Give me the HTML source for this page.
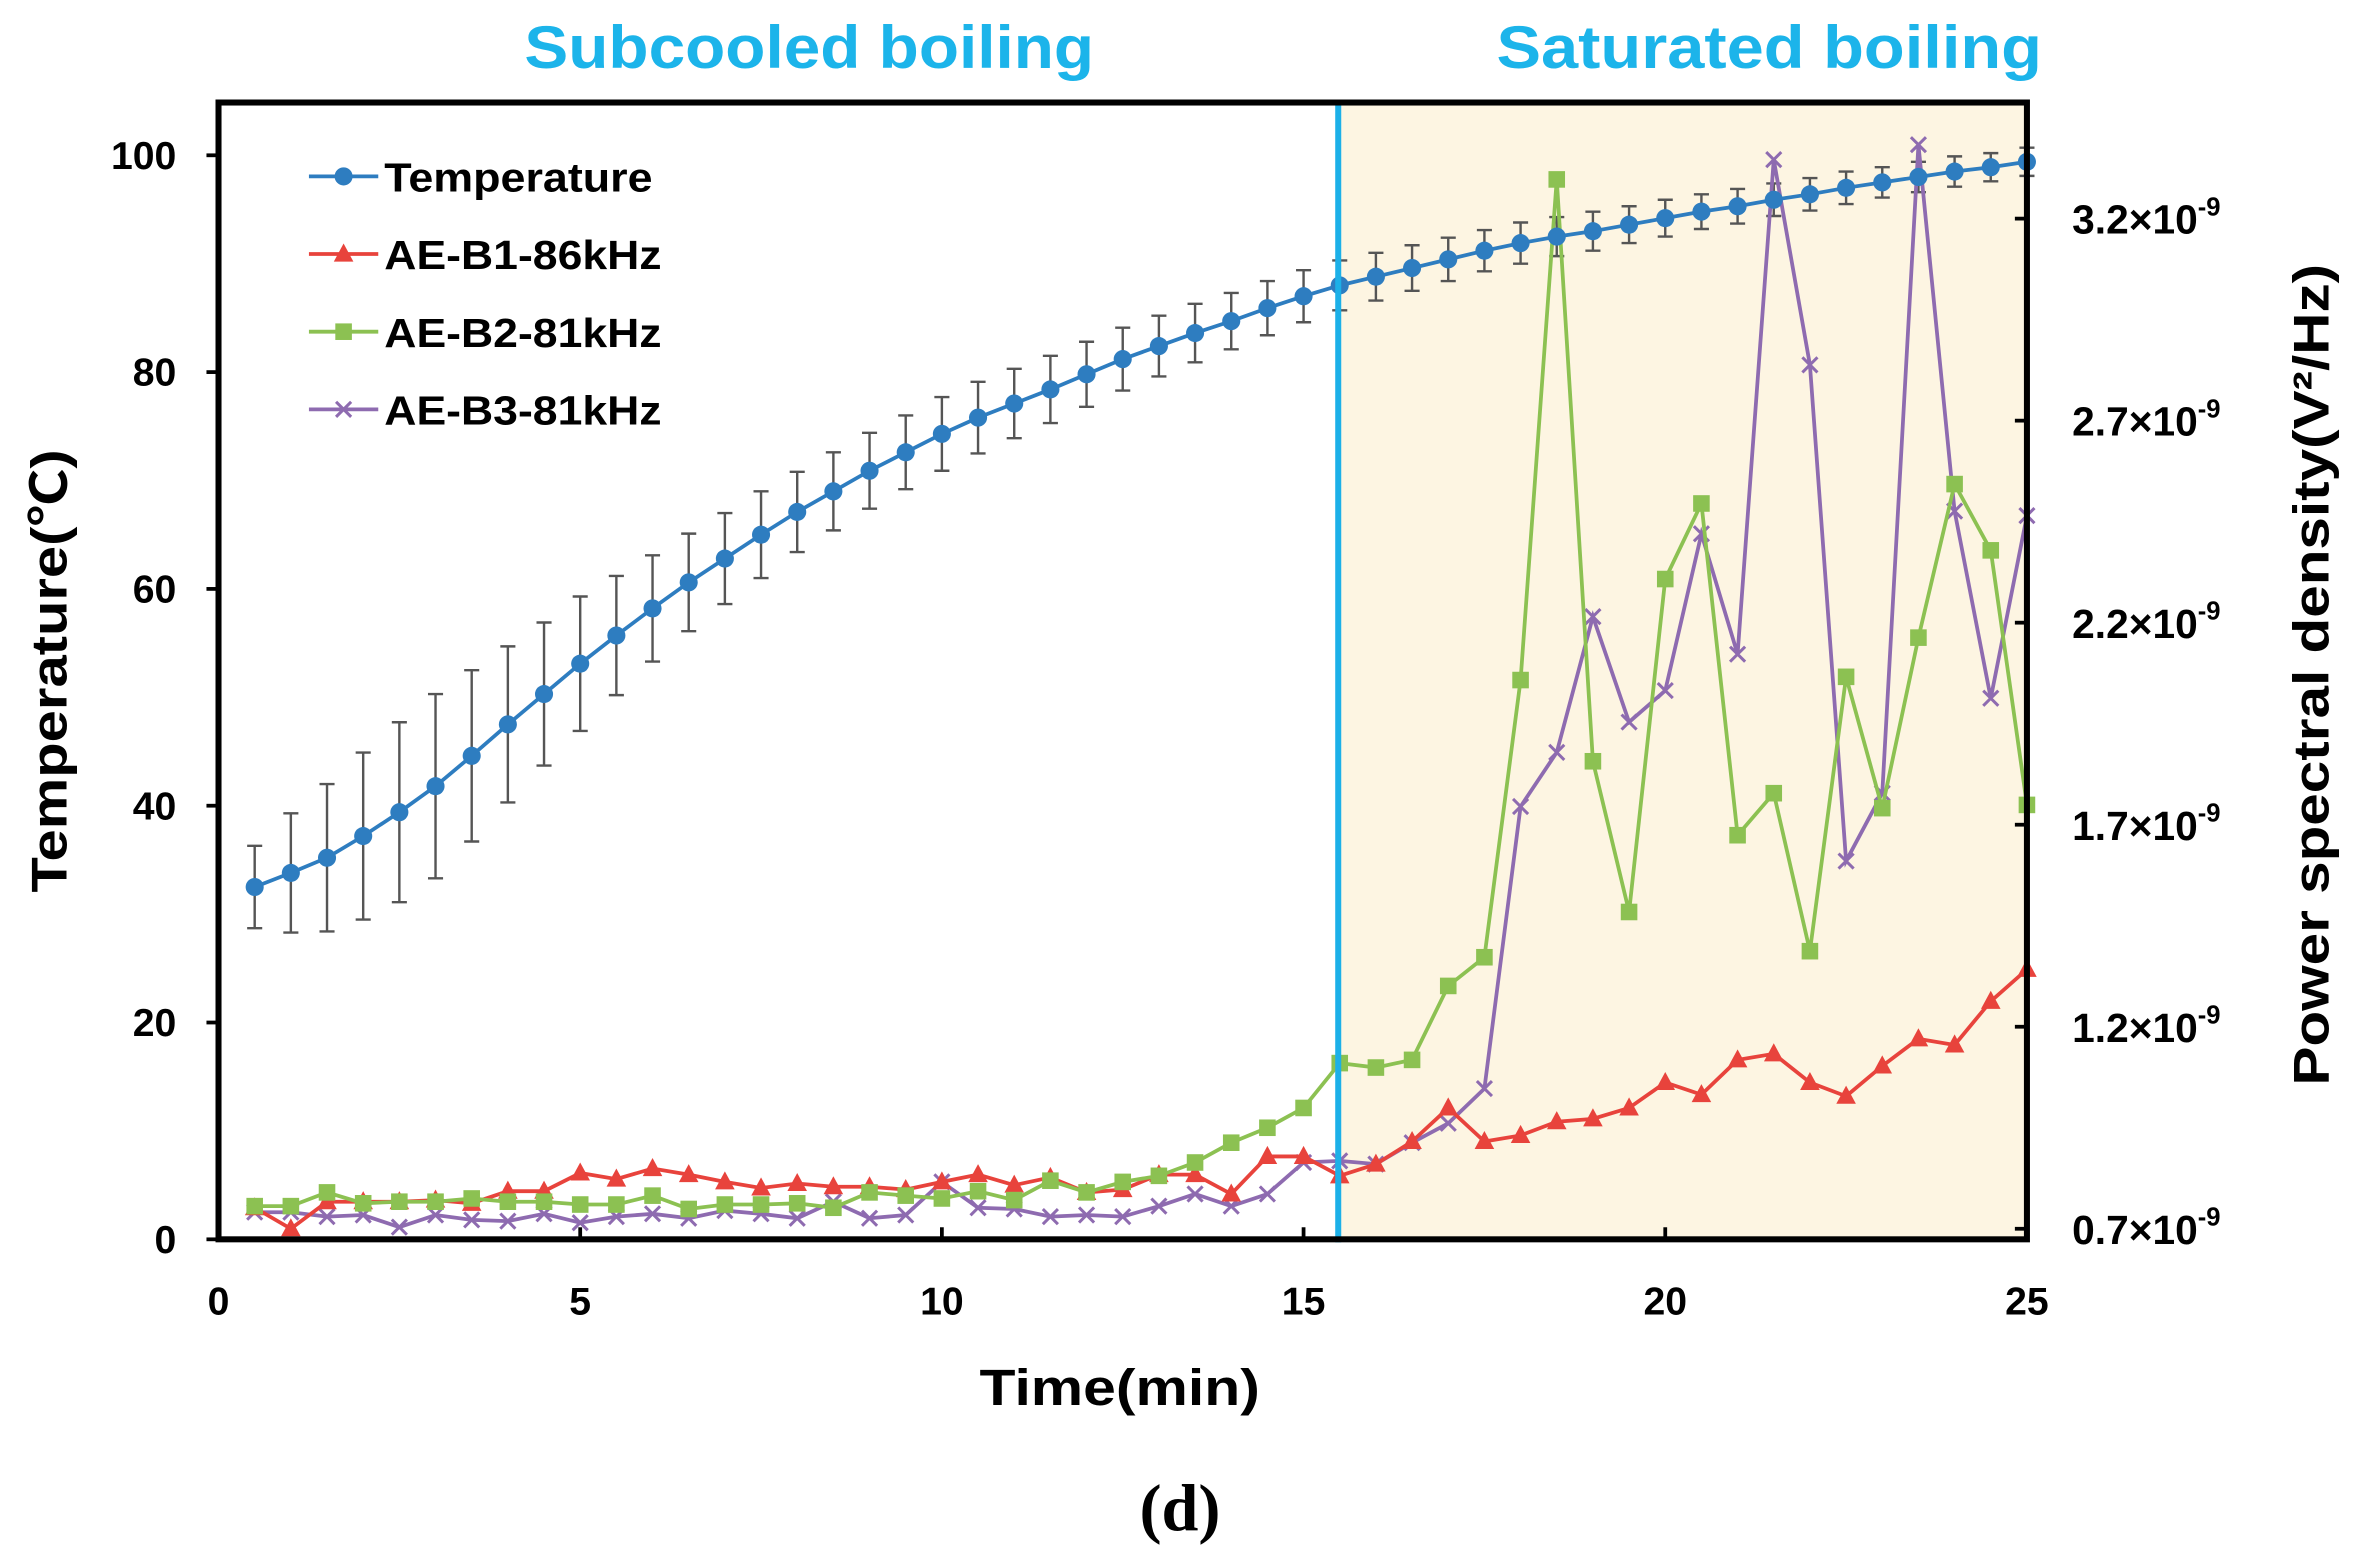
<!DOCTYPE html>
<html><head><meta charset="utf-8"><style>
html,body{margin:0;padding:0;background:#fff;}
svg{display:block;}
text{font-family:"Liberation Sans","Noto Sans CJK SC",sans-serif;font-weight:bold;}
</style></head><body>
<svg id="chart" width="2363" height="1568" viewBox="0 0 1568 1040" preserveAspectRatio="none" xmlns="http://www.w3.org/2000/svg">
<rect x="888" y="68" width="457" height="754" fill="#fdf5e2"/>
<g id="marks"></g>
<line x1="888" y1="68" x2="888" y2="824" stroke="#1cb0e8" stroke-width="4"/>
<rect x="145" y="68" width="1200" height="754" fill="none" stroke="#000" stroke-width="4"/>
<g id="axes"></g>
<text x="348" y="45" fill="#1cb4ea" font-size="40" textLength="378" lengthAdjust="spacingAndGlyphs">Subcooled boiling</text>
<text x="993" y="45" fill="#1cb4ea" font-size="40" textLength="362" lengthAdjust="spacingAndGlyphs">Saturated boiling</text>
<text x="650" y="932" font-size="34" textLength="186" lengthAdjust="spacingAndGlyphs">Time(min)</text>
<text transform="translate(44,592) rotate(-90)" font-size="33" textLength="294" lengthAdjust="spacingAndGlyphs">Temperature(℃)</text>
<text transform="translate(1545,720) rotate(-90)" font-size="33" textLength="545" lengthAdjust="spacingAndGlyphs">Power spectral density(V²/Hz)</text>
<text x="783" y="1015" font-size="44" text-anchor="middle" style="font-family:'Liberation Serif',serif">(d)</text>
<g id="legend"></g>
</svg>
<script>
const times=[];for(let i=1;i<=50;i++)times.push(i*0.5);
const temperature=[32.5,33.8,35.2,37.2,39.4,41.8,44.6,47.5,50.3,53.1,55.7,58.2,60.6,62.8,65,67.1,69,70.9,72.6,74.3,75.8,77.1,78.4,79.8,81.2,82.4,83.6,84.7,85.9,87,88,88.8,89.6,90.4,91.2,91.9,92.5,93,93.6,94.2,94.8,95.3,95.9,96.4,97,97.5,98,98.5,98.9,99.4];
const tempError=[3.8,5.5,6.8,7.7,8.3,8.5,7.9,7.2,6.6,6.2,5.5,4.9,4.5,4.2,4,3.7,3.6,3.5,3.4,3.4,3.3,3.2,3.1,3.0,2.9,2.8,2.7,2.6,2.5,2.4,2.3,2.2,2.1,2.0,1.9,1.9,1.8,1.8,1.7,1.7,1.6,1.6,1.5,1.5,1.5,1.4,1.4,1.4,1.3,1.3];
const b1=[0.752,0.70,0.767,0.767,0.767,0.771,0.763,0.793,0.793,0.838,0.823,0.849,0.834,0.816,0.801,0.812,0.804,0.804,0.797,0.816,0.834,0.808,0.827,0.79,0.797,0.834,0.834,0.786,0.879,0.879,0.831,0.860,0.916,0.999,0.916,0.931,0.965,0.972,0.999,1.062,1.032,1.118,1.133,1.062,1.028,1.103,1.170,1.155,1.263,1.342];
const b2=[0.756,0.756,0.790,0.763,0.767,0.767,0.775,0.767,0.767,0.760,0.760,0.782,0.749,0.760,0.760,0.763,0.752,0.790,0.782,0.775,0.793,0.771,0.819,0.790,0.816,0.831,0.864,0.913,0.950,0.999,1.110,1.099,1.118,1.301,1.372,2.058,3.297,1.857,1.484,2.308,2.495,1.674,1.778,1.387,2.066,1.741,2.163,2.543,2.379,1.749];
const b3=[0.741,0.741,0.730,0.734,0.704,0.734,0.722,0.719,0.737,0.715,0.730,0.737,0.726,0.745,0.737,0.726,0.767,0.726,0.734,0.816,0.752,0.749,0.730,0.734,0.730,0.756,0.786,0.756,0.786,0.864,0.868,0.860,0.913,0.961,1.047,1.745,1.879,2.215,1.954,2.032,2.420,2.122,3.346,2.838,1.610,1.778,3.383,2.476,2.013,2.465];
const xTicks=[0,5,10,15,20,25];
const yTicks=[0,20,40,60,80,100];
const y2Ticks=[0.7,1.2,1.7,2.2,2.7,3.2];
const y2Labels=["0.7×10","1.2×10","1.7×10","2.2×10","2.7×10","3.2×10"];

const NS="http://www.w3.org/2000/svg";
const X=t=>145+t*48;
const Y=v=>822-v*7.19;
const Y2=v=>815-(v-0.7)*268;
function mk(tag,attrs,parent){const e=document.createElementNS(NS,tag);for(const k in attrs)e.setAttribute(k,attrs[k]);parent.appendChild(e);return e;}
const marks=document.getElementById('marks');
const axes=document.getElementById('axes');
const legend=document.getElementById('legend');

xTicks.forEach(t=>{
 const l=mk('line',{x1:X(t),x2:X(t),y1:822,y2:814,stroke:'#000','stroke-width':2.5},axes);
 
 
 const tx=mk('text',{x:X(t),y:872,'font-size':26,'text-anchor':'middle'},axes);tx.textContent=t;
 
 
});
yTicks.forEach(v=>{
 const l=mk('line',{x1:137,x2:145,y1:Y(v),y2:Y(v),stroke:'#000','stroke-width':2.5},axes);
 
 
 const tx=mk('text',{x:117,y:Y(v)+9,'font-size':26,'text-anchor':'end'},axes);tx.textContent=v;
 
 
});
y2Ticks.forEach((v,i)=>{
 const l=mk('line',{x1:1337,x2:1345,y1:Y2(v),y2:Y2(v),stroke:'#000','stroke-width':2.5},axes);
 
 
 const tx=mk('text',{x:1375,y:Y2(v)+10,'font-size':27},axes);
 tx.textContent=y2Labels[i];
 const sup=mk('tspan',{dy:-12,'font-size':17},tx);sup.textContent='-9';
 
 
});

function marker(type,x,y,color,parent){
 let e;
 if(type==='circle')e=mk('circle',{cx:x,cy:y,r:6,fill:color},parent);
 else if(type==='tri')e=mk('polygon',{points:`${x},${y-7} ${x-6.5},${y+5} ${x+6.5},${y+5}`,fill:color},parent);
 else if(type==='square')e=mk('rect',{x:x-5.5,y:y-5.5,width:11,height:11,fill:color},parent);
 else e=mk('path',{d:`M${x-5},${y-5}L${x+5},${y+5}M${x-5},${y+5}L${x+5},${y-5}`,stroke:color,'stroke-width':2,fill:'none'},parent);
 return e;
}
function series(vals,yf,color,type,name){
 const g=mk('g',{},marks);
 
 
 const pts=vals.map((v,i)=>X(times[i])+','+yf(v)).join(' ');
 const pl=mk('polyline',{points:pts,fill:'none',stroke:color,'stroke-width':2.5},g);
 
 
 vals.forEach((v,i)=>{
  const m=marker(type,X(times[i]),yf(v),color,g);
  
  
 });
}
const eg=mk('g',{},marks);


temperature.forEach((v,i)=>{
 const x=X(times[i]),y1=Y(v+tempError[i]),y2=Y(v-tempError[i]);
 const p=mk('path',{d:`M${x},${y1}L${x},${y2}M${x-5},${y1}L${x+5},${y1}M${x-5},${y2}L${x+5},${y2}`,stroke:'#555','stroke-width':1.6,fill:'none'},eg);
 
 
});
series(b3,Y2,'#8e6bb0','x','ae-b3');
series(b1,Y2,'#e8433c','tri','ae-b1');
series(b2,Y2,'#8cc152','square','ae-b2');
series(temperature,Y,'#2e7dc0','circle','temperature');

const legItems=[['Temperature','#2e7dc0','circle',178],['AE-B1-86kHz','#e8433c','tri',184],['AE-B2-81kHz','#8cc152','square',184],['AE-B3-81kHz','#8e6bb0','x',184]];
legItems.forEach((it,i)=>{
 const y=117+i*51.5;
 const g=mk('g',{},legend);
 
 
 mk('line',{x1:205,x2:251,y1:y,y2:y,stroke:it[1],'stroke-width':2.5},g);
 marker(it[2],228,y,it[1],g);
 const t=mk('text',{x:255,y:y+10,'font-size':27,textLength:it[3],lengthAdjust:'spacingAndGlyphs'},g);t.textContent=it[0];
});
</script>
</body></html>
